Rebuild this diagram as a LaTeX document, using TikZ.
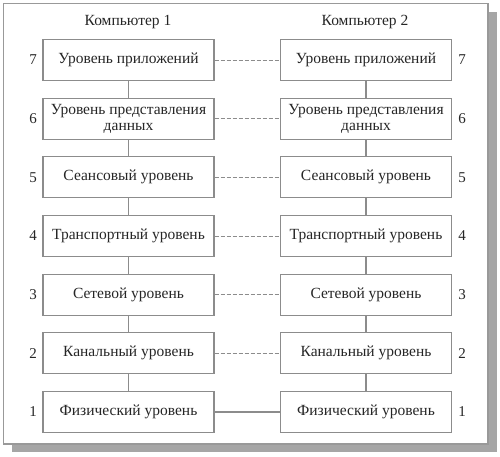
\documentclass[tikz,border=0pt]{standalone}
\usepackage{fontspec}
\setmainfont{Liberation Serif}
\begin{document}
\begin{tikzpicture}[x=1pt,y=-1pt,
  layer/.style={draw=black!45,line width=1.2pt,fill=white,minimum width=171pt,minimum height=41pt,inner sep=1pt,align=center,font=\fontsize{15.5}{15.5}\selectfont,text=black!85},
  num/.style={font=\fontsize{15}{16}\selectfont,text=black!85},
  title/.style={font=\fontsize{15.5}{16}\selectfont,text=black!85},
  vlink/.style={draw=black!45,line width=1.2pt},
  peer/.style={draw=black!45,line width=1pt,dashed,dash pattern=on 4pt off 2pt},
  phys/.style={draw=black!45,line width=1.2pt}]
\useasboundingbox (0,0) rectangle (500,456);
\fill[black!35] (12,12) rectangle (497,452);
\filldraw[fill=white,draw=black!40,line width=1.5pt] (3.5,3.5) rectangle (488,444);
\node[title] (t1) at (128,22) {Компьютер 1};
\node[title] (t2) at (365,22) {Компьютер 2};
\foreach \i/\txt [count=\k] in {7/Уровень приложений,6/{Уровень представления\\данных},5/Сеансовый уровень,4/Транспортный уровень,3/Сетевой уровень,2/Канальный уровень,1/Физический уровень}{
  \pgfmathsetmacro{\yy}{60+(\k-1)*58.67}
  \node[layer] (L\i) at (128.5,\yy) {\txt};
  \node[layer] (R\i) at (366,\yy) {\txt};
  \node[num] (nl\i) at (33,\yy) {\i};
  \node[num] (nr\i) at (462,\yy) {\i};
}
\foreach \a/\b in {7/6,6/5,5/4,4/3,3/2,2/1}{
  \draw[vlink] (L\a) -- (L\b);
  \draw[vlink] (R\a) -- (R\b);
}
\foreach \i in {7,6,5,4,3,2}{
  \draw[peer] (L\i) -- (R\i);
}
\draw[phys] (L1) -- (R1);
\end{tikzpicture}
\end{document}
